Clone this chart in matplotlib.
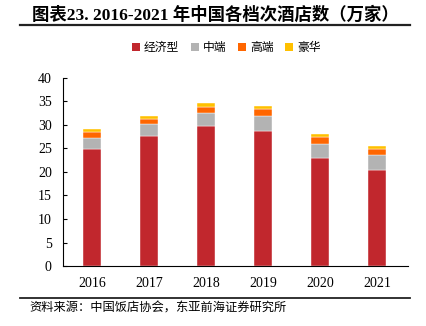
import matplotlib
matplotlib.use("Agg")
import matplotlib.pyplot as plt
from matplotlib.lines import Line2D
from matplotlib.patches import Patch
import numpy as np

years = ["2016", "2017", "2018", "2019", "2020", "2021"]
economy = [24.9, 27.7, 29.7, 28.7, 23.0, 20.4]
midrange = [2.4, 2.4, 2.9, 3.1, 3.0, 3.2]
upscale = [1.2, 1.2, 1.2, 1.5, 1.5, 1.2]
luxury = [0.6, 0.6, 0.8, 0.7, 0.6, 0.7]
series_names = ["经济型", "中端", "高端", "豪华"]
colors = ["#C1272D", "#B3B3B3", "#FF6600", "#FFC000"]

cjk = ["Noto Sans CJK SC", "DejaVu Sans"]
serif = ["Liberation Serif", "Noto Sans CJK SC"]

fig = plt.figure(figsize=(4.27, 3.26), dpi=100)
ax = fig.add_axes([0.1475, 0.184, 0.8075, 0.577])

x = np.arange(len(years))
bottom = np.zeros(len(years))
for vals, col in zip([economy, midrange, upscale, luxury], colors):
    ax.bar(x, vals, bottom=bottom, width=0.33, color=col,
           edgecolor="white", linewidth=0.3)
    bottom += np.array(vals)

ax.set_xlim(-0.51, 5.54)
ax.set_ylim(0, 40)
ax.set_yticks(range(0, 41, 5))
ax.set_xticks(x)
ax.set_xticklabels(years, family=serif, fontsize=10)
for lab in ax.get_yticklabels():
    lab.set_family(serif)
    lab.set_fontsize(10)
ax.tick_params(axis="y", direction="in", length=3, width=0.8, pad=8)
ax.tick_params(axis="x", length=0, pad=8)
ax.spines["top"].set_visible(False)
ax.spines["right"].set_visible(False)
ax.spines["left"].set_linewidth(0.8)
ax.spines["bottom"].set_linewidth(0.8)

handles = [Patch(facecolor=c) for c in colors]
fig.legend(handles, series_names, loc="center", bbox_to_anchor=(0.53, 0.853),
           ncol=4, frameon=False, prop={"family": cjk, "size": 8.5},
           handlelength=0.7, handleheight=0.7, handletextpad=0.3,
           columnspacing=1.0)

fig.text(0.075, 0.953, "图表23. 2016-2021 年中国各档次酒店数（万家）",
         family=serif, fontweight="bold", fontsize=12.5, va="center", ha="left")
fig.add_artist(Line2D([0.047, 0.96], [0.922, 0.922], color="#222222",
                      linewidth=1.6, transform=fig.transFigure))
fig.add_artist(Line2D([0.047, 0.96], [0.086, 0.086], color="#222222",
                      linewidth=1.3, transform=fig.transFigure))
fig.text(0.07, 0.055, "资料来源：中国饭店协会，东亚前海证券研究所",
         family=cjk, fontsize=8.8, va="center", ha="left")

fig.savefig("out.png", dpi=100)
